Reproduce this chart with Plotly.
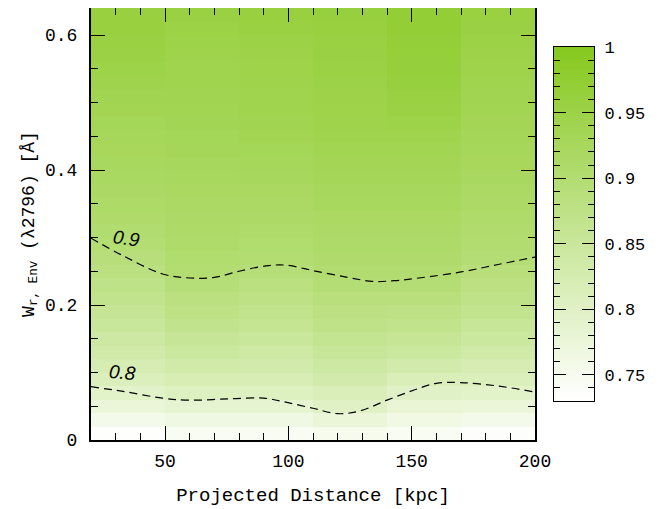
import numpy as np
import plotly.graph_objects as go

# ---- data ----
x_centers = [35, 65, 95, 125, 155, 185]
y_centers = [0.01, 0.03, 0.05, 0.07, 0.09, 0.11, 0.13, 0.15, 0.17, 0.19, 0.21, 0.23,
             0.25, 0.27, 0.29, 0.31, 0.33, 0.35, 0.37, 0.39, 0.41, 0.43, 0.45, 0.47,
             0.49, 0.51, 0.53, 0.55, 0.57, 0.59, 0.61, 0.63]

col_35 = [0.732, 0.755, 0.775, 0.795, 0.81, 0.822, 0.832, 0.842, 0.85, 0.858, 0.866, 0.874,
          0.882, 0.89, 0.898, 0.903, 0.907, 0.911, 0.915, 0.919, 0.922, 0.925, 0.928, 0.932,
          0.936, 0.94, 0.944, 0.948, 0.953, 0.957, 0.959, 0.96]
col_65 = [0.745, 0.765, 0.785, 0.805, 0.82, 0.833, 0.845, 0.856, 0.866, 0.875, 0.884, 0.892,
          0.9, 0.904, 0.908, 0.911, 0.914, 0.917, 0.92, 0.923, 0.926, 0.929, 0.932, 0.935,
          0.937, 0.939, 0.941, 0.943, 0.945, 0.948, 0.952, 0.956]
col_95 = [0.745, 0.765, 0.785, 0.805, 0.818, 0.83, 0.84, 0.85, 0.86, 0.868, 0.876, 0.884,
          0.892, 0.9, 0.904, 0.908, 0.912, 0.916, 0.92, 0.924, 0.928, 0.932, 0.936, 0.939,
          0.941, 0.943, 0.945, 0.947, 0.949, 0.952, 0.956, 0.96]
col_125 = [0.75, 0.775, 0.8, 0.815, 0.83, 0.842, 0.853, 0.863, 0.872, 0.88, 0.888, 0.895,
           0.902, 0.906, 0.91, 0.914, 0.918, 0.922, 0.926, 0.93, 0.934, 0.938, 0.942, 0.945,
           0.947, 0.949, 0.951, 0.953, 0.955, 0.957, 0.959, 0.961]
col_155 = [0.745, 0.762, 0.78, 0.797, 0.815, 0.83, 0.845, 0.857, 0.868, 0.878, 0.887, 0.895,
           0.902, 0.906, 0.91, 0.914, 0.918, 0.922, 0.926, 0.93, 0.934, 0.938, 0.943, 0.948,
           0.953, 0.957, 0.961, 0.964, 0.967, 0.969, 0.97, 0.971]
col_185 = [0.735, 0.755, 0.775, 0.795, 0.81, 0.822, 0.834, 0.845, 0.855, 0.864, 0.872, 0.88,
           0.888, 0.895, 0.901, 0.905, 0.909, 0.913, 0.917, 0.921, 0.925, 0.928, 0.931, 0.934,
           0.937, 0.94, 0.943, 0.946, 0.949, 0.952, 0.955, 0.958]

# contour paths
c09_x = [20, 33, 49, 60, 70, 80, 91, 99, 110, 124, 134, 143, 153, 170, 185, 200]
c09_y = [0.299, 0.273, 0.246, 0.240, 0.241, 0.250, 0.258, 0.259, 0.251, 0.241, 0.235,
         0.236, 0.240, 0.249, 0.260, 0.271]
c08_x = [20, 33, 49, 60, 76, 90, 99, 110, 120, 129, 140, 151, 160, 170, 185, 200]
c08_y = [0.079, 0.072, 0.062, 0.059, 0.061, 0.062, 0.056, 0.047, 0.039, 0.043, 0.059,
         0.074, 0.084, 0.085, 0.080, 0.071]

x_ticks = [50, 100, 150, 200]
y_ticks = [0, 0.2, 0.4, 0.6]
y_tick_text = ["0", "0.2", "0.4", "0.6"]
cb_ticks = [0.75, 0.8, 0.85, 0.9, 0.95, 1.0]
cb_tick_text = ["0.75", "0.8", "0.85", "0.9", "0.95", "1"]
zmin, zmax = 0.73, 1.0

FONT = "Liberation Mono"
CSCALE = [[0, "#ffffff"], [1, "#86c81e"]]

z = [list(r) for r in zip(col_35, col_65, col_95, col_125, col_155, col_185)]

# the page body has an 8px margin, so the figure is offset by 8px
OFF = 8
W, H = 670 - OFF, 509 - OFF
plot_left_px, plot_right_px = 91 - OFF, 535 - OFF
plot_top_px, plot_bot_px = 0, 440 - OFF
cb_left_px, cb_right_px = 554 - OFF, 594 - OFF
cb_top_px, cb_bot_px = 47 - OFF, 401 - OFF

L, T = plot_left_px, plot_top_px
R = W - cb_right_px
B = H - plot_bot_px
pw, ph = W - L - R, H - T - B

main_xdom = [0, (plot_right_px - L) / pw]
cb_xdom = [(cb_left_px - L) / pw, 1.0]
cb_ydom = [(plot_bot_px - cb_bot_px) / ph, (plot_bot_px - cb_top_px) / ph]

fig = go.Figure()
fig.add_trace(go.Heatmap(
    x=x_centers, y=y_centers, z=z, zmin=zmin, zmax=zmax,
    colorscale=CSCALE, zsmooth=False, showscale=False, hoverinfo="skip",
))

for cx, cy in [(c09_x, c09_y), (c08_x, c08_y)]:
    fig.add_trace(go.Scatter(x=cx, y=cy, mode="lines", line=dict(color="black", width=1.2,
                  dash="8px,5px", shape="spline"), showlegend=False, hoverinfo="skip"))

# colour bar drawn as its own small heatmap on a second pair of axes
cb_levels = np.linspace(zmin, zmax, 271)
fig.add_trace(go.Heatmap(
    x=[0], y=cb_levels, z=[[v] for v in cb_levels], zmin=zmin, zmax=zmax,
    colorscale=CSCALE, zsmooth=False, showscale=False, hoverinfo="skip",
    xaxis="x2", yaxis="y2",
))

# contour labels
fig.add_annotation(x=34.5, y=0.299, text="<i>0.9</i>", showarrow=False, textangle=8,
                   font=dict(family="Liberation Sans", size=19, color="black"),
                   xref="x", yref="y")
fig.add_annotation(x=32.8, y=0.1, text="<i>0.8</i>", showarrow=False, textangle=5,
                   font=dict(family="Liberation Sans", size=19, color="black"),
                   xref="x", yref="y")

fig.update_layout(
    width=W, height=H,
    margin=dict(l=L, r=R, t=T, b=B, autoexpand=False),
    paper_bgcolor="white", plot_bgcolor="white",
    font=dict(family=FONT, size=18, color="black"),
    showlegend=False,
    xaxis=dict(
        domain=main_xdom, range=[20, 200], tickvals=x_ticks, ticks="inside", ticklen=14,
        tickwidth=1, tickcolor="black", showline=True, linecolor="black", linewidth=2,
        mirror="allticks", showgrid=False, zeroline=False, automargin=False,
        minor=dict(dtick=10, tick0=0, ticks="inside", ticklen=7, tickcolor="black", showgrid=False),
        tickfont=dict(family=FONT, size=18), ticklabelstandoff=3,
        title=dict(text="Projected Distance [kpc]", font=dict(family=FONT, size=19), standoff=17),
    ),
    yaxis=dict(
        range=[0, 0.64], tickvals=y_ticks, ticktext=y_tick_text, ticks="inside", ticklen=14,
        tickwidth=1, tickcolor="black", showline=True, linecolor="black", linewidth=2,
        mirror="allticks", showgrid=False, zeroline=False, automargin=False,
        minor=dict(dtick=0.05, tick0=0, ticks="inside", ticklen=7, tickcolor="black", showgrid=False),
        tickfont=dict(family=FONT, size=18), ticklabelstandoff=8,
        title=dict(text="W<sub>r, Env</sub> (λ2796) [Å]", font=dict(family=FONT, size=18), standoff=6),
    ),
    xaxis2=dict(
        domain=cb_xdom, anchor="y2", range=[-0.5, 0.5], showticklabels=False, ticks="",
        showline=True, linecolor="black", linewidth=1.2, mirror=True, showgrid=False,
        zeroline=False, automargin=False,
    ),
    yaxis2=dict(
        domain=cb_ydom, anchor="x2", side="right", range=[zmin, zmax], tickvals=cb_ticks,
        ticktext=cb_tick_text, ticks="inside", ticklen=12, tickwidth=1, tickcolor="black",
        showline=True, linecolor="black", linewidth=1.2, mirror="allticks", showgrid=False,
        zeroline=False, automargin=False,
        minor=dict(dtick=0.01, tick0=0.73, ticks="inside", ticklen=6, tickcolor="black", showgrid=False),
        tickfont=dict(family=FONT, size=17), ticklabelstandoff=6,
    ),
)

fig.write_html("out.html")
